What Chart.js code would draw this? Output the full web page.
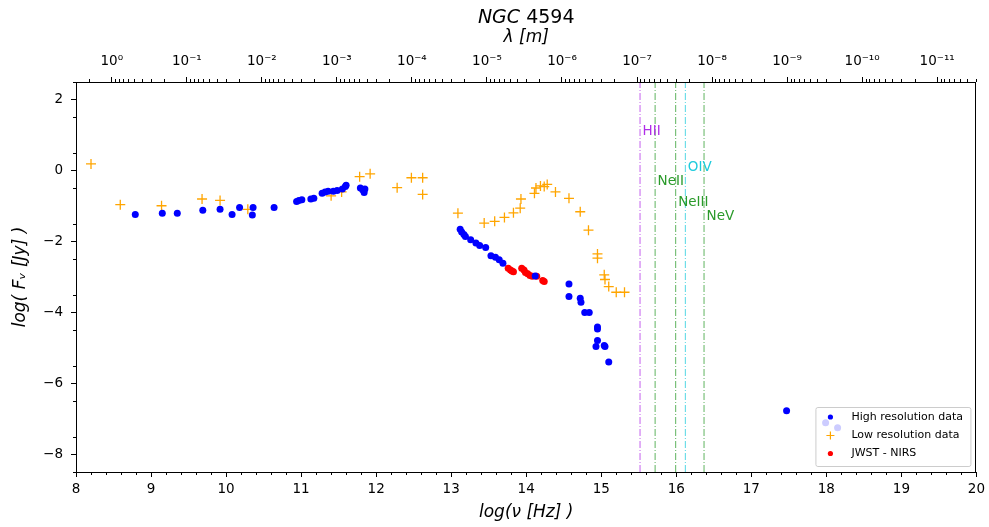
<!DOCTYPE html>
<html>
<head>
<meta charset="utf-8">
<script src="https://cdn.jsdelivr.net/npm/chart.js@4.4.1/dist/chart.umd.min.js"></script>
<style>
  html, body { margin: 0; padding: 0; background: #fff; }
  #wrap { width: 989px; height: 527px; }
</style>
</head>
<body>
<div id="wrap"><canvas id="sed"></canvas></div>
<script>
// SED of NGC 4594, log(nu [Hz]) against log(F_nu [Jy])
const hiResX = [8.79, 9.15, 9.35, 9.69, 9.92, 10.08, 10.18, 10.35, 10.36, 10.64,
  10.94, 10.97, 11.01, 11.13, 11.17, 11.28, 11.32, 11.36, 11.43, 11.48,
  11.55, 11.59, 11.60, 11.79, 11.82, 11.84, 11.85,
  13.12, 13.14, 13.17, 13.19, 13.26, 13.33, 13.38, 13.46, 13.53, 13.59, 13.64, 13.69,
  14.12, 14.57, 14.57, 14.72, 14.73, 14.78, 14.84, 14.95, 14.95, 14.95, 14.93,
  15.04, 15.05, 15.10, 17.47, 17.99, 18.15];
const hiResY = [-1.24, -1.20, -1.20, -1.12, -1.09, -1.24, -1.04, -1.25, -1.04, -1.04,
  -0.87, -0.84, -0.82, -0.80, -0.78, -0.64, -0.60, -0.58, -0.58, -0.56,
  -0.52, -0.45, -0.41, -0.49, -0.54, -0.62, -0.52,
  -1.65, -1.73, -1.80, -1.86, -1.95, -2.04, -2.11, -2.17, -2.40, -2.44, -2.51, -2.61,
  -2.97, -3.20, -3.55, -3.60, -3.71, -4.00, -4.00, -4.41, -4.47, -4.79, -4.96,
  -4.93, -4.96, -5.40, -6.77, -7.11, -7.25];

const lowResX = [8.20, 8.59, 9.14, 9.68, 9.92, 10.29, 11.40, 11.54, 11.78, 11.92,
  12.28, 12.47, 12.62, 12.62, 13.09, 13.44, 13.58, 13.71, 13.83, 13.92, 13.93,
  14.11, 14.13, 14.19, 14.24, 14.28, 14.39, 14.57, 14.72, 14.83,
  14.95, 14.95, 15.04, 15.05, 15.10, 15.20, 15.31];
const lowResY = [0.19, -0.96, -0.99, -0.80, -0.84, -1.09, -0.71, -0.60, -0.17, -0.09,
  -0.48, -0.20, -0.20, -0.67, -1.20, -1.48, -1.43, -1.32, -1.19, -1.06, -0.80,
  -0.64, -0.49, -0.43, -0.45, -0.39, -0.60, -0.78, -1.16, -1.68,
  -2.35, -2.47, -2.94, -3.07, -3.27, -3.43, -3.43];

const jwstX = [13.76, 13.79, 13.81, 13.83, 13.94, 13.97, 13.99, 14.02, 14.05, 14.08, 14.14, 14.22, 14.24];
const jwstY = [-2.75, -2.80, -2.83, -2.85, -2.75, -2.80, -2.87, -2.91, -2.96, -2.98, -2.98, -3.10, -3.13];

// ionisation edges (log nu) and where their names sit
const lineNames = ['HII', 'NeII', 'NeIII', 'OIV', 'NeV'];
const lineFreqs = [15.517, 15.718, 15.992, 16.121, 16.370];
const lineLabelY = [1.0, -0.4, -1.0, 0.0, -1.4];

const yTicks = [-8, -6, -4, -2, 0, 2];
const lamExponents = [0, -1, -2, -3, -4, -5, -6, -7, -8, -9, -10, -11];
const legendNames = ['High resolution data', 'Low resolution data', 'JWST - NIRS'];

const lineColors = {
  HII: '#b02ee8', NeII: '#2a9a2a', NeIII: '#2a9a2a', OIV: '#1ccbdc', NeV: '#2a9a2a'
};

const LOG_C = Math.log10(2.998e8);
const FONT = "'DejaVu Sans'";

function toPoints(xs, ys) {
  return xs.map((x, i) => ({ x: x, y: ys[i] }));
}

function sup(n) {
  const map = { '-': '⁻', '0': '⁰', '1': '¹', '2': '²', '3': '³', '4': '⁴',
    '5': '⁵', '6': '⁶', '7': '⁷', '8': '⁸', '9': '⁹' };
  return String(n).split('').map(c => map[c]).join('');
}

const datasets = [];
lineNames.forEach((name, i) => {
  datasets.push({
    label: name,
    data: [{ x: lineFreqs[i], y: -8.5 }, { x: lineFreqs[i], y: 2.5 }],
    showLine: true,
    borderColor: lineColors[name] + 'c0',
    borderWidth: 1,
    borderDash: [7, 2, 1, 2],
    pointRadius: 0
  });
});
datasets.push({
  label: legendNames[0],
  data: toPoints(hiResX, hiResY),
  pointStyle: 'circle',
  pointRadius: 3.5,
  pointBorderWidth: 0,
  backgroundColor: '#0000ff'
});
datasets.push({
  label: legendNames[1],
  data: toPoints(lowResX, lowResY),
  pointStyle: 'cross',
  pointRadius: 5,
  borderColor: '#ffa500',
  pointBorderWidth: 1.3
});
datasets.push({
  label: legendNames[2],
  data: toPoints(jwstX, jwstY),
  pointStyle: 'circle',
  pointRadius: 3.5,
  pointBorderWidth: 0,
  backgroundColor: '#ff0000'
});

// frame + minor ticks
const minorTicks = {
  id: 'minorTicks',
  afterDraw(chart) {
    const { ctx, chartArea: a, scales } = chart;
    ctx.save();
    ctx.strokeStyle = '#000';
    ctx.lineWidth = 1;
    ctx.beginPath();
    for (let i = 40; i <= 100; i++) {
      if (i % 5 === 0) continue;
      const px = Math.round(scales.x.getPixelForValue(i / 5)) + 0.5;
      ctx.moveTo(px, a.bottom);
      ctx.lineTo(px, a.bottom + 3);
    }
    for (let i = -17; i <= 5; i++) {
      if (i % 2 === 0) continue;
      const py = Math.round(scales.y.getPixelForValue(i / 2)) + 0.5;
      ctx.moveTo(a.left, py);
      ctx.lineTo(a.left - 3, py);
    }
    for (let e = 1; e >= -12; e--) {
      for (let m = 2; m <= 9; m++) {
        const v = LOG_C - e - Math.log10(m);
        if (v < 8 || v > 20) continue;
        const px = Math.round(scales.x2.getPixelForValue(v)) + 0.5;
        ctx.moveTo(px, a.top);
        ctx.lineTo(px, a.top - 3);
      }
    }
    ctx.stroke();
    ctx.strokeRect(Math.round(a.left) + 0.5, Math.round(a.top) + 0.5,
      Math.round(a.right - a.left) - 1, Math.round(a.bottom - a.top));
    ctx.restore();
  }
};

// names of the ionisation edges
const lineLabels = {
  id: 'lineLabels',
  afterDatasetsDraw(chart) {
    const { ctx, scales } = chart;
    ctx.save();
    ctx.font = '13.5px ' + FONT;
    ctx.textBaseline = 'alphabetic';
    ctx.textAlign = 'left';
    lineNames.forEach((name, i) => {
      ctx.fillStyle = lineColors[name];
      ctx.fillText(name, scales.x.getPixelForValue(lineFreqs[i]) + 2.5,
        scales.y.getPixelForValue(lineLabelY[i]));
    });
    ctx.restore();
  }
};

// matplotlib-like legend in the lower right corner
const boxLegend = {
  id: 'boxLegend',
  afterDatasetsDraw(chart) {
    const { ctx, chartArea: a } = chart;
    const w = 155, h = 59;
    const x0 = a.right - 6 - w, y0 = a.bottom - 6 - h;
    ctx.save();
    ctx.fillStyle = 'rgba(255,255,255,0.8)';
    ctx.strokeStyle = '#cccccc';
    ctx.lineWidth = 1;
    ctx.beginPath();
    ctx.roundRect(x0 + 0.5, y0 + 0.5, w, h, 2);
    ctx.fill();
    ctx.stroke();
    const rows = [y0 + 10, y0 + 28.5, y0 + 46.5];
    const mx = x0 + 15;
    ctx.fillStyle = '#0000ff';
    ctx.beginPath(); ctx.arc(mx, rows[0], 2.6, 0, Math.PI * 2); ctx.fill();
    ctx.strokeStyle = '#ffa500'; ctx.lineWidth = 1.2;
    ctx.beginPath();
    ctx.moveTo(mx - 4, rows[1]); ctx.lineTo(mx + 4, rows[1]);
    ctx.moveTo(mx, rows[1] - 4); ctx.lineTo(mx, rows[1] + 4);
    ctx.stroke();
    ctx.fillStyle = '#ff0000';
    ctx.beginPath(); ctx.arc(mx, rows[2], 2.6, 0, Math.PI * 2); ctx.fill();
    ctx.fillStyle = '#000';
    ctx.font = '11px ' + FONT;
    ctx.textBaseline = 'middle';
    legendNames.forEach((t, i) => ctx.fillText(t, x0 + 36, rows[i]));
    ctx.restore();
  }
};

// title with italic object prefix
const sedTitle = {
  id: 'sedTitle',
  afterDraw(chart) {
    const { ctx, chartArea: a } = chart;
    const cx = (a.left + a.right) / 2;
    ctx.save();
    ctx.fillStyle = '#000';
    ctx.textBaseline = 'alphabetic';
    ctx.textAlign = 'left';
    ctx.font = 'italic 19px ' + FONT;
    const wa = ctx.measureText('NGC').width;
    ctx.font = '19px ' + FONT;
    const wb = ctx.measureText(' 4594').width;
    const x = cx - (wa + wb) / 2;
    ctx.font = 'italic 19px ' + FONT;
    ctx.fillText('NGC', x, 23);
    ctx.font = '19px ' + FONT;
    ctx.fillText(' 4594', x + wa, 23);
    ctx.restore();
  }
};

Chart.defaults.font.family = FONT;
Chart.defaults.color = '#000';

new Chart(document.getElementById('sed'), {
  type: 'scatter',
  data: { datasets: datasets },
  options: {
    responsive: true,
    maintainAspectRatio: false,
    animation: false,
    devicePixelRatio: 1,
    events: [],
    layout: { padding: { left: 0, right: 10, top: 0, bottom: 0 } },
    plugins: { legend: { display: false }, tooltip: { enabled: false } },
    scales: {
      x: {
        type: 'linear', position: 'bottom', min: 8, max: 20,
        ticks: { stepSize: 1, padding: 4, color: '#000', font: { size: 13.5 }, maxRotation: 0 },
        grid: { drawOnChartArea: false, tickLength: 5, tickColor: '#000' },
        border: { display: false },
        title: { display: true, text: 'log(ν [Hz] )', color: '#000',
          font: { size: 17, style: 'italic' }, padding: { top: 0, bottom: 4 } },
        afterFit: s => { s.height = 55; }
      },
      x2: {
        type: 'linear', position: 'top', min: 8, max: 20,
        afterBuildTicks: s => { s.ticks = lamExponents.map(e => ({ value: LOG_C - e })); },
        ticks: {
          autoSkip: false, maxRotation: 0, padding: 7, color: '#000', font: { size: 13.5 },
          callback: v => '10' + sup(Math.round(LOG_C - v))
        },
        grid: { drawOnChartArea: false, tickLength: 5, tickColor: '#000' },
        border: { display: false },
        title: { display: true, text: 'λ [m]', color: '#000',
          font: { size: 17, style: 'italic' }, padding: { top: 27, bottom: 0 } },
        afterFit: s => { s.height = 82; }
      },
      y: {
        type: 'linear', position: 'left', min: -8.5, max: 2.5,
        afterBuildTicks: s => { s.ticks = yTicks.map(v => ({ value: v })); },
        ticks: {
          padding: 8, color: '#000', font: { size: 13.5 },
          callback: v => (v < 0 ? '−' + Math.abs(v) : String(v))
        },
        grid: { drawOnChartArea: false, tickLength: 5, tickColor: '#000' },
        border: { display: false },
        title: { display: true, text: 'log( Fᵥ [Jy] )', color: '#000',
          font: { size: 17, style: 'italic' }, padding: { top: 10, bottom: 0 } },
        afterFit: s => { s.width = 76; }
      }
    }
  },
  plugins: [minorTicks, lineLabels, boxLegend, sedTitle]
});
</script>
</body>
</html>
